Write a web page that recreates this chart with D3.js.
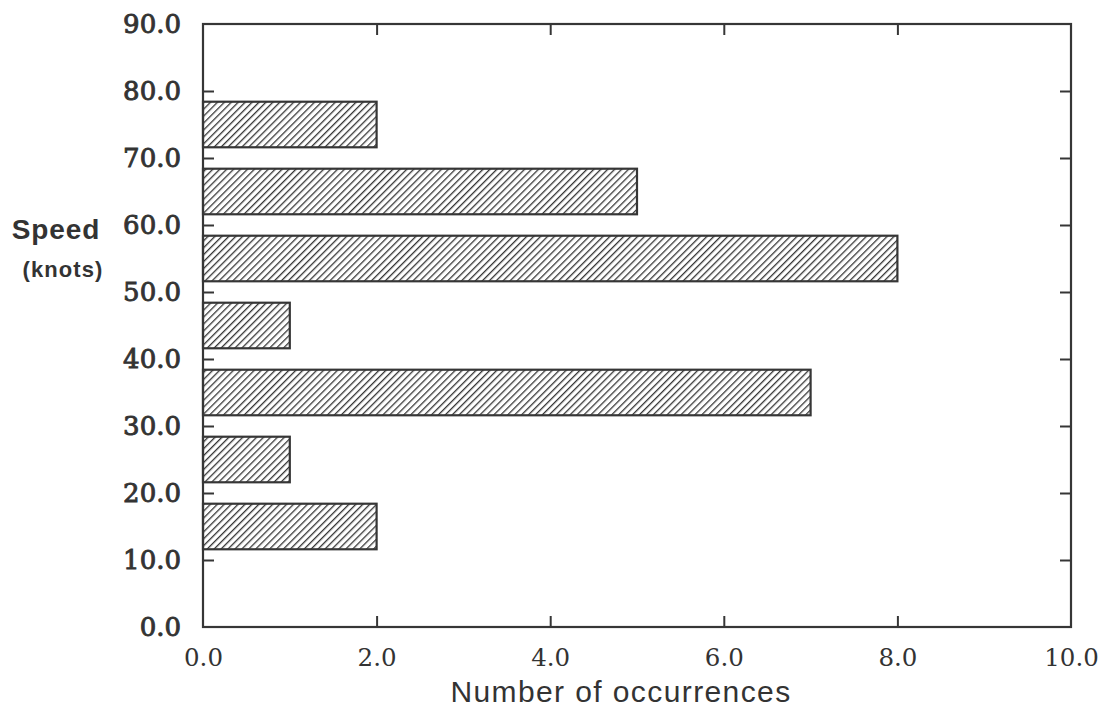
<!DOCTYPE html>
<html><head><meta charset="utf-8">
<script src="https://cdn.jsdelivr.net/npm/d3@7"></script>
<style>body{margin:0;background:#fff}svg{display:block}</style>
</head><body>
<script>
const binStart = [10, 20, 30, 40, 50, 60, 70];
const binEnd = [20, 30, 40, 50, 60, 70, 80];
const occurrences = [2, 1, 7, 1, 8, 5, 2];
const xTicks = [0, 2, 4, 6, 8, 10];
const yTicks = [0, 10, 20, 30, 40, 50, 60, 70, 80, 90];
const xTitle = "Number of occurrences";
const yTitle = "Speed";
const yUnit = "(knots)";

const W = 1109, H = 708;
const m = {left: 203, right: 1071, top: 24, bottom: 627};
const ink = "#363636";
const svg = d3.select("body").append("svg").attr("width", W).attr("height", H);

const defs = svg.append("defs");
const pat = defs.append("pattern").attr("id", "hatch").attr("patternUnits", "userSpaceOnUse")
  .attr("width", 4.9).attr("height", 4.9).attr("patternTransform", "rotate(45)");
pat.append("rect").attr("width", 4.9).attr("height", 4.9).attr("fill", "#fff");
pat.append("line").attr("x1", 0).attr("y1", 0).attr("x2", 0).attr("y2", 4.9)
  .attr("stroke", ink).attr("stroke-width", 2.6);

const x = d3.scaleLinear().domain([0, 10]).range([m.left, m.right]);
const y = d3.scaleLinear().domain([0, 90]).range([m.bottom, m.top]);

const data = binStart.map((s, i) => ({s, e: binEnd[i], v: occurrences[i]}));
const pad = 1.6;
svg.append("g").selectAll("rect").data(data).join("rect")
  .attr("x", x(0))
  .attr("y", d => y(d.e - pad))
  .attr("width", d => x(d.v) - x(0))
  .attr("height", d => y(d.s + pad) - y(d.e - pad))
  .attr("fill", "url(#hatch)")
  .attr("stroke", ink).attr("stroke-width", 2.2);

const fmt = d3.format(".1f");
const tl = 11;
const gb = svg.append("g").attr("transform", `translate(0,${m.bottom})`)
  .call(d3.axisBottom(x).tickValues(xTicks).tickSize(-tl).tickPadding(22).tickFormat(fmt));
const gt = svg.append("g").attr("transform", `translate(0,${m.top})`)
  .call(d3.axisTop(x).tickValues(xTicks).tickSize(-tl).tickFormat(""));
const gl = svg.append("g").attr("transform", `translate(${m.left},0)`)
  .call(d3.axisLeft(y).tickValues(yTicks).tickSize(-tl).tickPadding(33).tickFormat(fmt));
const gr = svg.append("g").attr("transform", `translate(${m.right},0)`)
  .call(d3.axisRight(y).tickValues(yTicks).tickSize(-tl).tickFormat(""));

[gb, gt, gl, gr].forEach(g => {
  g.selectAll(".tick line").attr("stroke", ink).attr("stroke-width", 2);
});
[gb, gt].forEach(g => g.selectAll(".tick").filter(d => d === 0 || d === 10).select("line").remove());
[gl, gr].forEach(g => g.selectAll(".tick").filter(d => d === 0 || d === 90).select("line").remove());
[gb, gt, gl, gr].forEach(g => g.select(".domain").remove());

svg.append("rect").attr("x", m.left).attr("y", m.top)
  .attr("width", m.right - m.left).attr("height", m.bottom - m.top)
  .attr("fill", "none").attr("stroke", ink).attr("stroke-width", 2.2);

gb.selectAll("text").attr("font-family", "DejaVu Serif").attr("font-size", 24.5)
  .attr("fill", "#333").attr("dy", "0.71em");
gl.selectAll("text").attr("font-family", "DejaVu Serif").attr("font-size", 26)
  .attr("fill", "#333").attr("stroke", "#333").attr("stroke-width", 0.9).attr("x", -22);

svg.append("text").attr("x", (m.left + m.right) / 2 - 16).attr("y", 702)
  .attr("text-anchor", "middle").attr("font-family", "Liberation Sans").attr("font-size", 30)
  .attr("letter-spacing", 1.4).attr("fill", "#333").text(xTitle);
svg.append("text").attr("x", 56).attr("y", 239)
  .attr("text-anchor", "middle").attr("font-family", "Liberation Sans").attr("font-weight", "bold")
  .attr("font-size", 28).attr("letter-spacing", 0.9).attr("fill", "#333").text(yTitle);
svg.append("text").attr("x", 63).attr("y", 277)
  .attr("text-anchor", "middle").attr("font-family", "Liberation Sans").attr("font-weight", "bold")
  .attr("font-size", 22).attr("letter-spacing", 1.1).attr("fill", "#333").text(yUnit);
</script>
</body></html>
